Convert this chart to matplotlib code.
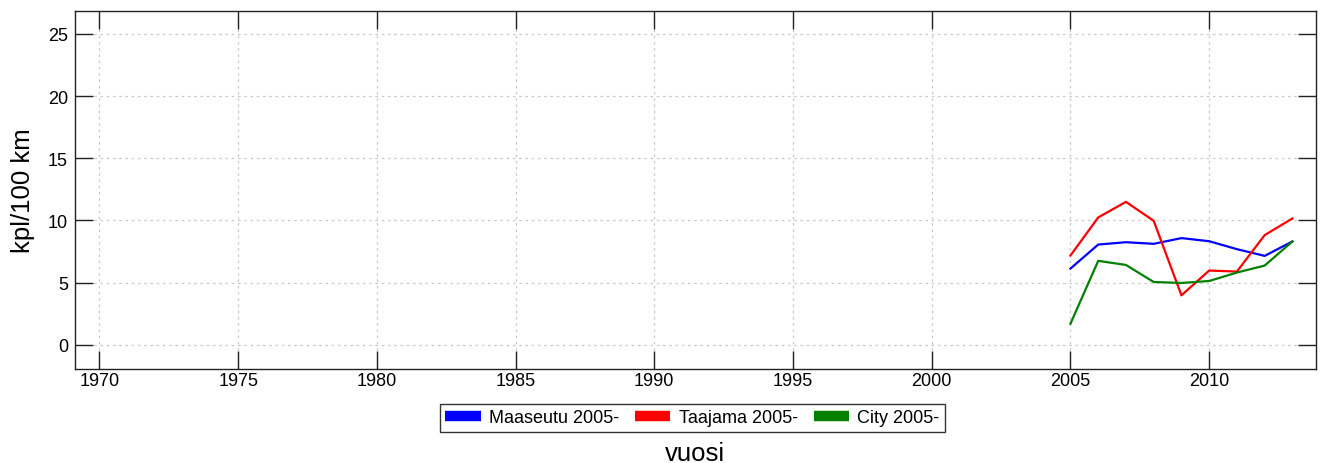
import matplotlib
matplotlib.use('Agg')
import matplotlib.pyplot as plt
from matplotlib.lines import Line2D

plt.rcParams['font.family'] = ['Liberation Sans', 'DejaVu Sans']

years = [2005, 2006, 2007, 2008, 2009, 2010, 2011, 2012, 2013]
maaseutu = [6.13, 8.06, 8.25, 8.12, 8.58, 8.33, 7.69, 7.15, 8.31]
taajama = [7.18, 10.24, 11.5, 9.97, 3.98, 5.97, 5.89, 8.82, 10.16]
city = [1.69, 6.75, 6.42, 5.05, 4.97, 5.13, 5.81, 6.37, 8.31]
labels = ['Maaseutu 2005-', 'Taajama 2005-', 'City 2005-']
colors = ['#0000ff', '#ff0000', '#008000']

fig = plt.figure(figsize=(13.25, 4.64), dpi=100)
# axes box in pixels: left 75, right 1316, top 12, bottom 370
ax = fig.add_axes([75 / 1325, 1 - 370 / 464, (1316 - 75) / 1325, (370 - 12) / 464])

for vals, c in zip([maaseutu, taajama, city], colors):
    ax.plot(years, vals, color=c, lw=1.6)

ax.set_xlim(1969.12, 2013.85)
ax.set_ylim(-1.95, 26.85)
ax.set_xticks(range(1970, 2011, 5))
ax.set_yticks(range(0, 26, 5))
ax.grid(True, linestyle=(0, (2, 3)), color='#c8c8c8', lw=0.9)
ax.tick_params(direction='in', length=13, width=1.0, top=True, right=True,
               labelsize=13, colors='#222222', labelcolor='black')
ax.tick_params(axis='x', pad=2)
ax.tick_params(axis='y', pad=5)
for s in ax.spines.values():
    s.set_color('#222222')
    s.set_linewidth(1.0)

ax.set_ylabel('kpl/100 km', fontsize=18.5, labelpad=9)
# x label sits just under the legend, near the bottom edge
fig.text(0.5245, 2.5 / 464, 'vuosi', fontsize=18.5, ha='center', va='baseline')

handles = [Line2D([], [], color=c, lw=7.5, solid_capstyle='butt') for c in colors]
leg = ax.legend(handles, labels, loc='upper center', bbox_to_anchor=(0.4975, -0.097),
                ncol=3, fontsize=13, frameon=True, fancybox=False,
                edgecolor='black', handlelength=1.95, columnspacing=0.9,
                borderpad=0.3, handletextpad=0.45, borderaxespad=0)
leg.get_frame().set_linewidth(1.0)

fig.savefig('out.png', dpi=100)
